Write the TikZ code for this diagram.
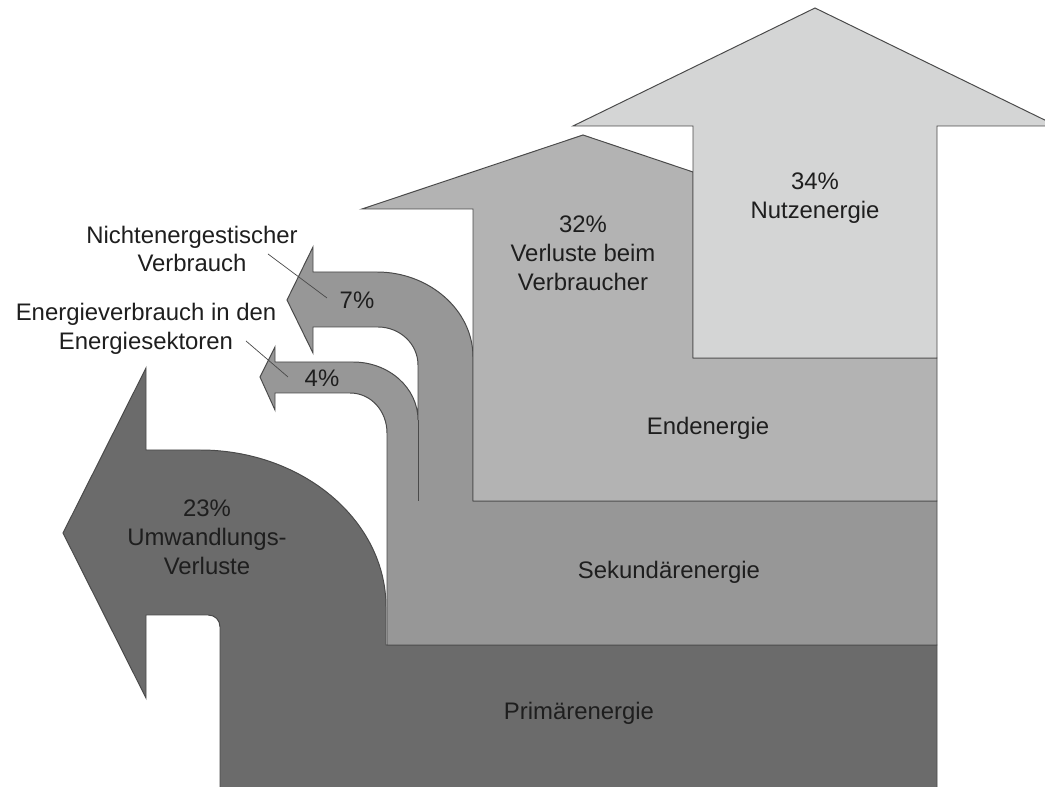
\documentclass[tikz,border=0pt]{standalone}
\usepackage{fontspec}
\setmainfont{Liberation Sans}
\usepackage{tikz}

\definecolor{primcol}{HTML}{6B6B6B}
\definecolor{sekcol}{HTML}{979797}
\definecolor{endcol}{HTML}{B3B3B3}
\definecolor{nutzcol}{HTML}{D4D5D5}
\definecolor{edgecol}{HTML}{4A4A4A}
\definecolor{txtcol}{HTML}{1E1E1E}

\begin{document}
\begin{tikzpicture}[x=0.25mm, y=-0.25mm,
    flow/.style={draw=edgecol, line width=0.7pt, line join=miter},
    lbl/.style={text=txtcol, align=center, inner sep=0pt, font=\fontsize{17}{20.5}\selectfont},
    leader/.style={draw=edgecol, line width=0.5pt}]
            \clip (0,0) rectangle (1045,787);

            % Primaerenergie and Umwandlungsverluste
            \draw[flow, fill=primcol] (220,792) -- (220,627) .. controls (220,620) and (215,615) .. (208,615)
                -- (146,615) -- (146,698) -- (63,533) -- (146,368) -- (146,450) -- (200,450)
                .. controls (302,450) and (386,520) .. (386,607) -- (386,645) -- (937,645) -- (937,792) -- cycle;

            % Sekundaerenergie with the two side flows
            \draw[flow, fill=sekcol] (387,645) -- (937,645) -- (937,501) -- (473,501) -- (473,357)
                .. controls (473,310) and (429,272) .. (377,272) -- (313,272) -- (313,247) -- (287,300)
                -- (313,353) -- (313,327) -- (378,327) .. controls (400,327) and (418,344) .. (418,365)
                -- (418,420) .. controls (418,388) and (389,362) .. (353,362) -- (275,362) -- (275,347)
                -- (260,377) -- (275,410) -- (275,393) -- (350,393) .. controls (371,393) and (387,411) .. (387,433)
                -- cycle;
            \draw[flow] (418,420) -- (418,501);

            % Endenergie and Verluste beim Verbraucher
            \draw[flow, fill=endcol] (473,501) -- (473,209) -- (362,209) -- (583,135) -- (693,172)
                -- (693,358) -- (937,358) -- (937,501) -- cycle;

            % Nutzenergie
            \draw[flow, fill=nutzcol] (693,358) -- (693,126) -- (573,126) -- (815,8) -- (1057,126)
                -- (937,126) -- (937,358) -- cycle;

            \node[lbl] (prim) at (579,713) {Primärenergie};
            \node[lbl] (sek) at (669,572) {Sekundärenergie};
            \node[lbl] (ende) at (708,428) {Endenergie};
            \node[lbl] (nutz) at (815,198) {34\%\\Nutzenergie};
            \node[lbl] (verl) at (583,253) {32\%\\Verluste beim\\Verbraucher};
            \node[lbl] (umw) at (207,537) {23\%\\Umwandlungs-\\Verluste};
            \node[lbl] (p7) at (357,300) {7\%};
            \node[lbl] (p4) at (322,378) {4\%};
            \node[lbl] (nev) at (192,249) {Nichtenergestischer\\Verbrauch};
            \node[lbl] (evs) at (146,329) {Energieverbrauch in den\\Energiesektoren};

            \coordinate (n7) at (268,254);
            \coordinate (k7) at (327,298);
            \coordinate (n4) at (246,341);
            \coordinate (k4) at (288,377);
            \draw[leader] (n7) -- (k7);
            \draw[leader] (n4) -- (k4);
        \end{tikzpicture}
\end{document}
